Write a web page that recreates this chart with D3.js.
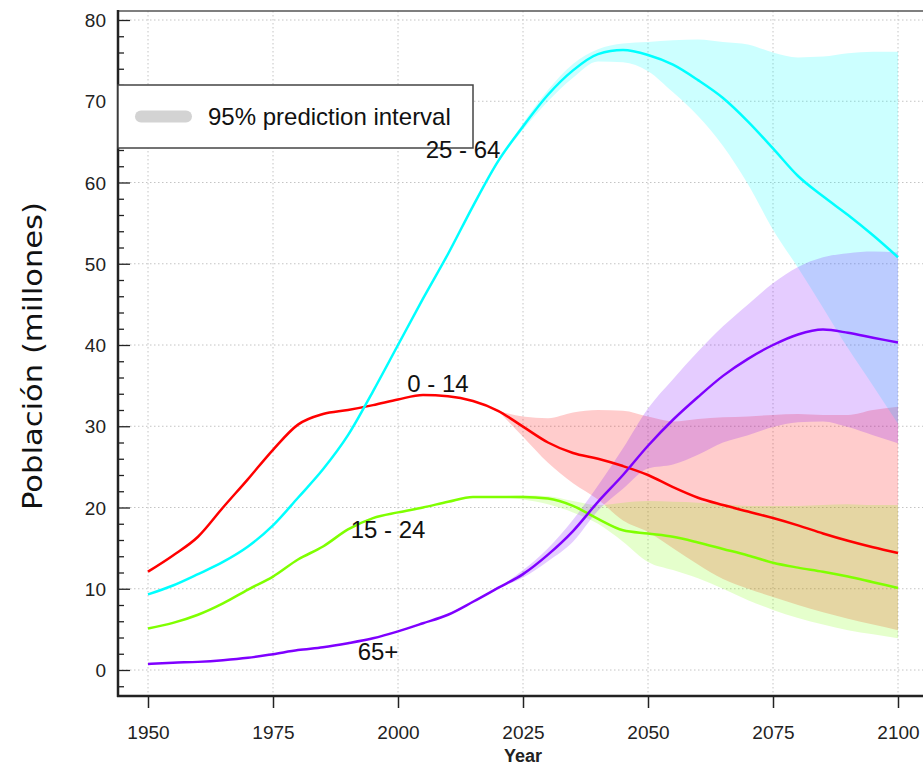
<!DOCTYPE html>
<html>
<head>
<meta charset="utf-8">
<script src="https://cdn.jsdelivr.net/npm/d3@7"></script>
<style>
  body { margin: 0; background: #fff; }
  svg { display: block; font-family: "Liberation Sans", Arial, sans-serif; }
</style>
</head>
<body>
<div id="chart"></div>
<script>
// Population by age group (millions), 1950-2100
const years = [1950, 1955, 1960, 1965, 1970, 1975, 1980, 1985, 1990, 1995, 2000, 2005, 2010, 2015, 2020,
  2025, 2030, 2035, 2040, 2045, 2050, 2055, 2060, 2065, 2070, 2075, 2080, 2085, 2090, 2095, 2100];

const age0_14 = [12.1, 14.1, 16.4, 20.0, 23.5, 27.1, 30.2, 31.5, 32.0, 32.6, 33.3, 33.85, 33.7, 33.1, 31.9,
  29.95, 28.0, 26.7, 26.0, 25.1, 24.0, 22.5, 21.2, 20.3, 19.5, 18.7, 17.8, 16.8, 15.9, 15.1, 14.4];
const age15_24 = [5.1, 5.8, 6.8, 8.2, 9.9, 11.5, 13.6, 15.2, 17.3, 18.7, 19.4, 20.0, 20.7, 21.3, 21.3,
  21.3, 21.1, 20.2, 18.6, 17.2, 16.8, 16.4, 15.7, 14.9, 14.1, 13.2, 12.6, 12.1, 11.5, 10.8, 10.1];
const age25_64 = [9.3, 10.4, 11.8, 13.3, 15.2, 17.8, 21.2, 24.7, 28.9, 34.3, 40.0, 45.7, 51.2, 57.1, 62.6,
  66.9, 70.8, 73.8, 75.8, 76.3, 75.7, 74.5, 72.6, 70.4, 67.5, 64.2, 60.8, 58.3, 56.0, 53.5, 50.8];
const age65 = [0.75, 0.9, 1.0, 1.2, 1.5, 1.95, 2.45, 2.8, 3.3, 3.9, 4.75, 5.75, 6.8, 8.4, 10.1,
  11.8, 14.2, 17.1, 20.7, 24.0, 27.6, 30.8, 33.6, 36.2, 38.3, 40.0, 41.3, 41.9, 41.5, 40.9, 40.3];

// 95% prediction intervals (projection years)
const bandYears = [2020, 2025, 2030, 2035, 2040, 2045, 2050, 2055, 2060, 2065, 2070, 2075, 2080, 2085, 2090, 2095, 2100];
const band0_14Lo = [31.9, 28.7, 25.5, 23.0, 21.0, 18.4, 17.0, 15.0, 13.0, 11.2, 10.0, 9.0, 8.0, 7.1, 6.3, 5.6, 4.9];
const band0_14Hi = [31.9, 31.2, 31.0, 31.7, 32.0, 31.9, 31.2, 30.6, 30.9, 31.1, 31.2, 31.4, 31.5, 31.4, 31.4, 32.0, 32.4];
const band15_24Lo = [21.3, 21.0, 20.4, 19.4, 18.0, 15.8, 13.3, 12.3, 11.3, 10.0, 8.6, 7.4, 6.4, 5.6, 4.9, 4.4, 3.9];
const band15_24Hi = [21.3, 21.5, 21.4, 20.8, 20.3, 20.6, 20.8, 20.7, 20.6, 20.4, 20.2, 20.2, 20.2, 20.3, 20.4, 20.3, 20.3];
const band25_64Lo = [62.6, 66.5, 70.0, 72.9, 74.9, 74.8, 73.7, 71.1, 68.2, 64.5, 59.8, 54.2, 49.5, 44.6, 39.6, 35.0, 30.3];
const band25_64Hi = [62.6, 67.3, 71.4, 74.6, 76.4, 77.1, 77.3, 77.5, 77.6, 77.3, 77.0, 76.0, 75.4, 75.5, 75.9, 76.1, 76.1];
const band65Lo = [10.1, 11.4, 13.4, 15.8, 19.6, 22.3, 24.8, 25.3, 26.5, 28.0, 28.9, 29.9, 30.5, 30.6, 29.9, 28.9, 27.9];
const band65Hi = [10.1, 12.3, 15.0, 18.5, 22.7, 27.3, 32.2, 35.8, 39.2, 42.3, 45.0, 47.6, 49.6, 50.8, 51.3, 51.5, 51.4];

const xTicks = [1950, 1975, 2000, 2025, 2050, 2075, 2100];
const yTicks = [0, 10, 20, 30, 40, 50, 60, 70, 80];

const series = [
  { name: "0 - 14", values: age0_14, lo: band0_14Lo, hi: band0_14Hi, color: "#ff0000", lx: 2008, ly: 34.2 },
  { name: "15 - 24", values: age15_24, lo: band15_24Lo, hi: band15_24Hi, color: "#7fff00", lx: 1998, ly: 16.25 },
  { name: "25 - 64", values: age25_64, lo: band25_64Lo, hi: band25_64Hi, color: "#00ffff", lx: 2013, ly: 63.0 },
  { name: "65+", values: age65, lo: band65Lo, hi: band65Hi, color: "#7f00ff", lx: 1996, ly: 1.2 }
];

const width = 923, height = 765;
const plotLeft = 118, plotRight = 923, plotTop = 11, plotBottom = 696;

const svg = d3.select("#chart").append("svg")
  .attr("width", width)
  .attr("height", height);

const x = d3.scaleLinear().domain([1950, 2100]).range([148, 898]);
const y = d3.scaleLinear().domain([0, 80]).range([670, 20]);

// dotted grid
const grid = svg.append("g").attr("stroke", "#c4c4c4").attr("stroke-width", 1).attr("stroke-dasharray", "1.5,2.5");
grid.selectAll("line.v").data(xTicks).enter().append("line")
  .attr("class", "v")
  .attr("x1", d => x(d)).attr("x2", d => x(d))
  .attr("y1", plotTop).attr("y2", plotBottom);
grid.selectAll("line.h").data(yTicks).enter().append("line")
  .attr("class", "h")
  .attr("x1", plotLeft).attr("x2", plotRight)
  .attr("y1", d => y(d)).attr("y2", d => y(d));

// prediction bands
const area = d3.area()
  .x(d => x(d.year))
  .y0(d => y(d.lo))
  .y1(d => y(d.hi))
  .curve(d3.curveMonotoneX);

series.forEach(s => {
  const pts = bandYears.map((yr, i) => ({ year: yr, lo: s.lo[i], hi: s.hi[i] }));
  svg.append("path")
    .datum(pts)
    .attr("d", area)
    .attr("fill", s.color)
    .attr("fill-opacity", 0.2);
});

// lines
const line = d3.line()
  .x((d, i) => x(years[i]))
  .y(d => y(d))
  .curve(d3.curveMonotoneX);

series.forEach(s => {
  svg.append("path")
    .datum(s.values)
    .attr("d", line)
    .attr("fill", "none")
    .attr("stroke", s.color)
    .attr("stroke-width", 2.5);
});

// frame
svg.append("line").attr("x1", plotLeft).attr("x2", plotRight).attr("y1", plotTop).attr("y2", plotTop)
  .attr("stroke", "#555").attr("stroke-width", 1.5);

// y axis with inward ticks
const yAxis = d3.axisRight(y)
  .tickValues(d3.range(-2, 81, 2))
  .tickSize(6)
  .tickFormat("");
const yg = svg.append("g").attr("transform", `translate(${plotLeft},0)`).call(yAxis);
yg.select(".domain").remove();
yg.selectAll(".tick line").attr("stroke", "#222").attr("stroke-width", 1.3)
  .attr("x2", d => d % 10 === 0 ? 12 : 6);
svg.append("line").attr("x1", plotLeft).attr("x2", plotLeft).attr("y1", plotTop - 1).attr("y2", plotBottom + 1)
  .attr("stroke", "#222").attr("stroke-width", 2.5);

svg.selectAll("text.ytl").data(yTicks).enter().append("text")
  .attr("class", "ytl")
  .attr("x", 106)
  .attr("y", d => y(d) + 7)
  .attr("text-anchor", "end")
  .style("font-size", "19px")
  .style("fill", "#222")
  .text(d => d);

// x axis
const xAxis = d3.axisBottom(x).tickValues(xTicks).tickSize(12).tickFormat(d3.format("d"));
const xg = svg.append("g").attr("transform", `translate(0,${plotBottom})`).call(xAxis);
xg.select(".domain").remove();
xg.selectAll(".tick line").attr("stroke", "#222").attr("stroke-width", 1.5);
xg.selectAll(".tick text")
  .attr("y", 30)
  .attr("dy", "0.71em")
  .style("font-size", "19px")
  .style("font-family", "'Liberation Sans', Arial, sans-serif")
  .style("fill", "#222");
svg.append("line").attr("x1", plotLeft - 1).attr("x2", plotRight).attr("y1", plotBottom).attr("y2", plotBottom)
  .attr("stroke", "#222").attr("stroke-width", 2.5);

svg.append("text")
  .attr("x", x(2025))
  .attr("y", 762)
  .attr("text-anchor", "middle")
  .style("font-size", "18px")
  .style("font-weight", "bold")
  .style("fill", "#222")
  .text("Year");

// y axis title
svg.append("text")
  .attr("transform", "translate(42,356) rotate(-90)")
  .attr("text-anchor", "middle")
  .attr("textLength", 308)
  .attr("lengthAdjust", "spacingAndGlyphs")
  .style("font-family", "'DejaVu Sans', sans-serif")
  .style("font-size", "27px")
  .style("fill", "#111")
  .text("Población (millones)");

// legend
const legend = svg.append("g");
legend.append("rect")
  .attr("x", plotLeft).attr("y", 85)
  .attr("width", 355).attr("height", 63)
  .attr("fill", "#fff")
  .attr("stroke", "#444").attr("stroke-width", 1.5);
legend.append("line")
  .attr("x1", 141).attr("x2", 186).attr("y1", 116.5).attr("y2", 116.5)
  .attr("stroke", "#d3d3d3").attr("stroke-width", 12).attr("stroke-linecap", "round");
legend.append("text")
  .attr("x", 208).attr("y", 124.5)
  .style("font-size", "24px")
  .style("fill", "#111")
  .text("95% prediction interval");

// series labels (drawn last, above the legend box)
svg.selectAll("text.lab").data(series).enter().append("text")
  .attr("class", "lab")
  .attr("x", d => x(d.lx))
  .attr("y", d => y(d.ly))
  .attr("text-anchor", "middle")
  .style("font-size", "24px")
  .style("fill", "#111")
  .text(d => d.name);
</script>
</body>
</html>
